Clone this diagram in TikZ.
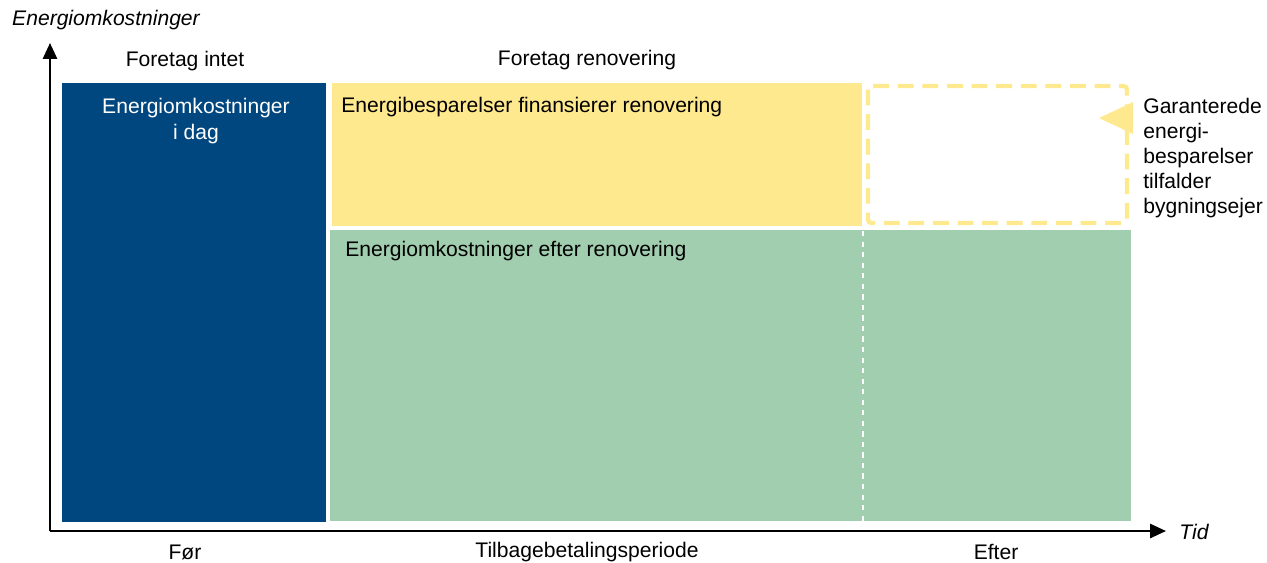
\documentclass[tikz,border=0pt]{standalone}
\usepackage{fontspec}
\setmainfont{Liberation Sans}
\usetikzlibrary{arrows.meta}
\definecolor{mblue}{RGB}{0,70,127}
\definecolor{myellow}{RGB}{255,233,143}
\definecolor{mgreen}{RGB}{161,206,174}
\tikzset{maxis/.style={draw,line width=1.3pt,-{Triangle[length=9pt,width=8pt]}}}
\tikzset{mlabel/.style={font=\fontsize{12}{14.5}\selectfont,inner sep=0pt}}
\tikzset{mside/.style={mlabel,align=left,anchor=north west}}

\begin{document}
\begin{tikzpicture}[x=0.02cm,y=-0.02cm]
\useasboundingbox (0,0) rectangle (1267,562);
\coordinate (o) at (50,531);
\coordinate (ytop) at (50,43);
\coordinate (xend) at (1166,531);

\fill[mblue] (62,83) rectangle (326,522);
\fill[myellow] (332,83) rectangle (862,226);
\fill[mgreen] (330,230) rectangle (1131,521);
\draw[white,line width=1pt,dashed] (863,231) -- (863,521);
\draw[myellow,line width=2.5pt,dash pattern=on 9pt off 5pt,rounded corners=2pt] (868,86) rectangle (1127,223);
\fill[myellow] (1099,118) -- (1133,102) -- (1133,134) -- cycle;

\draw[maxis] (o) -- (ytop);
\draw[maxis] (o) -- (xend);

\node[mlabel,font=\fontsize{12}{14.5}\selectfont\itshape] (ylab) at (106,20) {Energiomkostninger};
\node[mlabel,font=\fontsize{12}{14.5}\selectfont\itshape,anchor=west] (xlab) at (1179,532) {Tid};

\node[mlabel] (intet) at (185,61) {Foretag intet};
\node[mlabel] (renov) at (587,60) {Foretag renovering};
\node[mlabel,white,align=center,anchor=north] (idag) at (196,98) {Energiomkostninger\\i dag};
\node[mlabel,anchor=west] (spar) at (341,107) {Energibesparelser finansierer renovering};
\node[mlabel,anchor=west] (efter) at (345,251) {Energiomkostninger efter renovering};
\node[mside,font=\fontsize{12}{14.2}\selectfont] (garant) at (1143,98) {Garanterede\\energi-\\besparelser\\tilfalder\\bygningsejer};

\node[mlabel] (foer) at (185,552) {Før};
\node[mlabel] (periode) at (587,552) {Tilbagebetalingsperiode};
\node[mlabel] (eft) at (996,552) {Efter};
\end{tikzpicture}
\end{document}
